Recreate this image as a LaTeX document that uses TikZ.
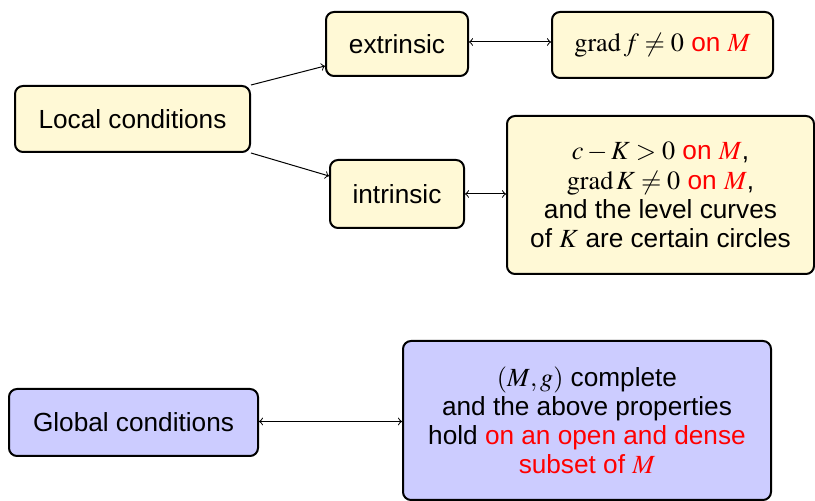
\documentclass[tikz,border=0pt]{standalone}
\usepackage{amsmath}
\usepackage{mathptmx}
\usepackage{fontspec}
\setmainfont{Liberation Sans}
\usetikzlibrary{calc}
\definecolor{boxyellow}{RGB}{255,249,214}
\definecolor{boxblue}{RGB}{204,204,255}
\tikzset{
  x=0.5pt, y=-0.5pt,
  box/.style={draw=black, line width=1pt, rounded corners=4pt, align=center,
    font=\fontsize{13.1pt}{14.6pt}\selectfont, inner sep=2pt},
  ybox/.style={box, fill=boxyellow},
  bbox/.style={box, fill=boxblue},
  conn/.style={line width=0.5pt},
}
\begin{document}
\begin{tikzpicture}
\useasboundingbox (0,0) rectangle (815,501);
\node[ybox, minimum width=117.5pt, minimum height=33pt] (local) at (132.5,119) {Local conditions};
\node[ybox, minimum width=71pt, minimum height=32pt] (ext) at (397,44) {extrinsic};
\node[ybox, minimum width=110.5pt, minimum height=33pt] (grad) at (662.5,45) {$\operatorname{grad} f \neq 0$ \textcolor{red}{on $M$}};
\node[ybox, minimum width=67pt, minimum height=34pt] (int) at (397,194) {intrinsic};
\node[ybox, minimum width=153.5pt, minimum height=79pt] (cond) at (660.5,195)
  {$c-K>0$ \textcolor{red}{on $M$},\\ $\operatorname{grad} K \neq 0$ \textcolor{red}{on $M$},\\ and the level curves\\ of $K$ are certain circles};
\node[bbox, minimum width=124.5pt, minimum height=33.5pt] (glob) at (133.5,422.5) {Global conditions};
\node[bbox, minimum width=184pt, minimum height=79.5pt] (gcond) at (587,420.5)
  {$(M,g)$ complete\\ and the above properties\\ hold \textcolor{red}{on an open and dense}\\ \textcolor{red}{subset of $M$}};
\coordinate (extr) at ($(ext.east)+(0,-2)$);
\coordinate (globr) at ($(glob.east)+(0,-1)$);
\draw[conn,->] (local.north east) -- ($(ext.west)+(0,22)$);
\draw[conn,->] (local.south east) -- ($(int.west)+(0,-18)$);
\draw[conn,<->] (extr) -- (grad.west |- extr);
\draw[conn,<->] (int.east) -- (cond.west |- int.east);
\draw[conn,<->] (globr) -- (gcond.west |- globr);
\end{tikzpicture}
\end{document}
